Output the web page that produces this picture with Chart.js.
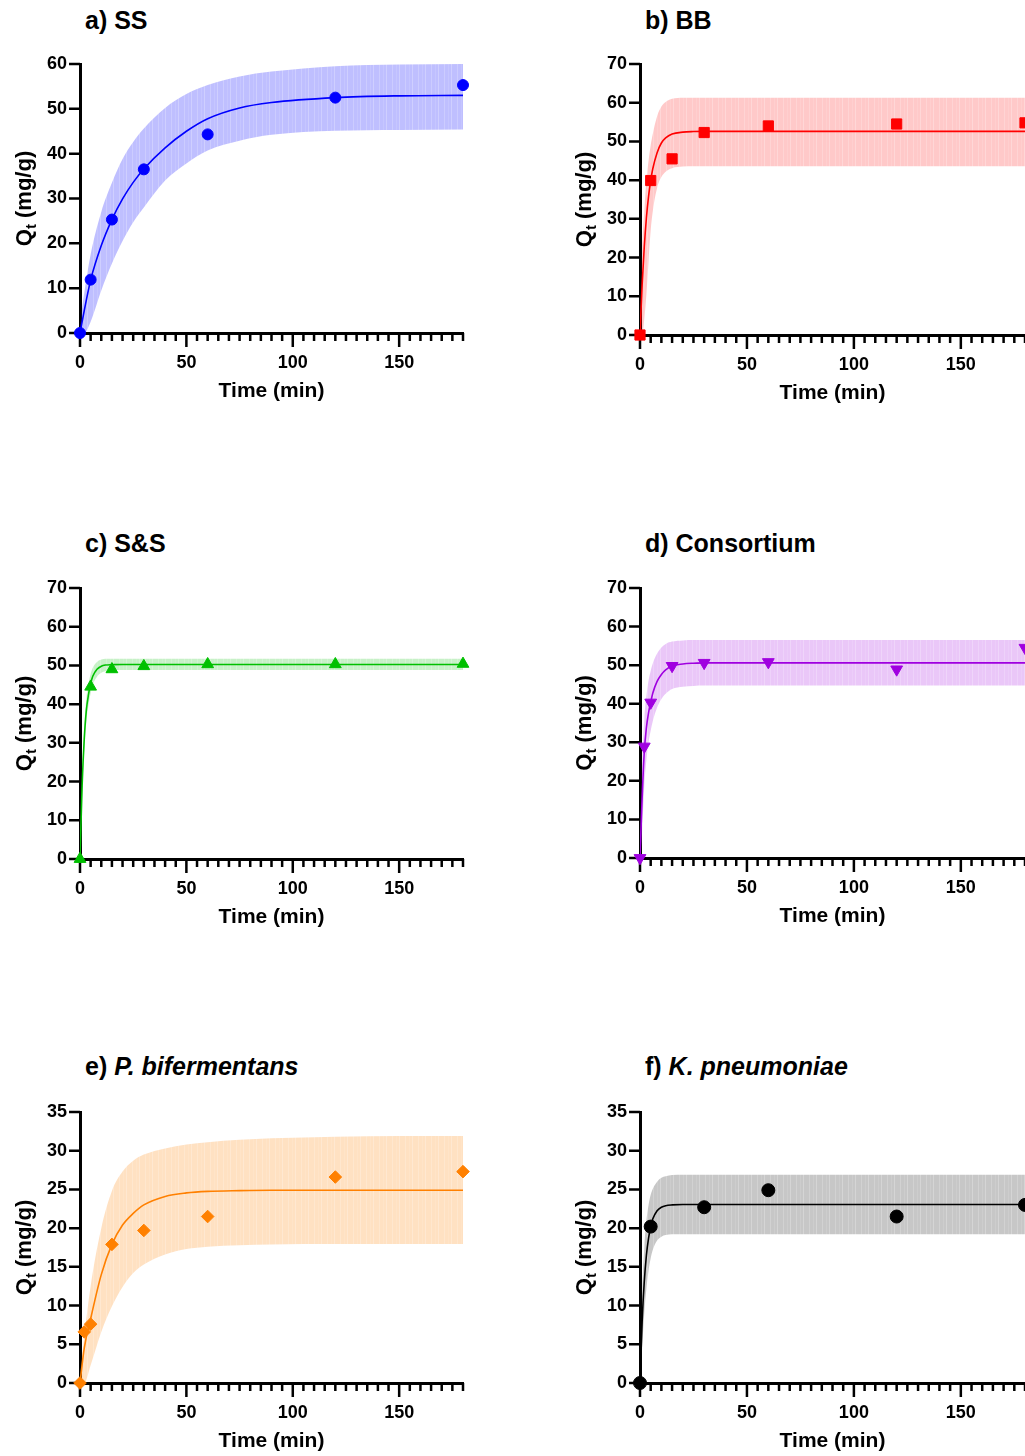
<!DOCTYPE html>
<html>
<head>
<meta charset="utf-8">
<script src="https://cdn.jsdelivr.net/npm/chart.js@4.4.0/dist/chart.umd.min.js"></script>
<style>
  html, body { margin: 0; padding: 0; background: #fff; }
  #page { position: relative; width: 1025px; height: 1456px; overflow: hidden; background: #fff; }
  #page canvas { position: absolute; }
  .ttl { position: absolute; font: bold 25px "Liberation Sans", Arial, sans-serif; line-height: 25px; color: #000; white-space: nowrap; }
</style>
</head>
<body>
<div id="page">
  <div class="ttl" style="left:85px;top:8px">a) SS</div>
  <div class="ttl" style="left:645px;top:8px">b) BB</div>
  <div class="ttl" style="left:85px;top:531px">c) S&amp;S</div>
  <div class="ttl" style="left:645px;top:531px">d) Consortium</div>
  <div class="ttl" style="left:85px;top:1054px">e) <i>P. bifermentans</i></div>
  <div class="ttl" style="left:645px;top:1054px">f) <i>K. pneumoniae</i></div>
  <canvas id="cA"></canvas>
  <canvas id="cB"></canvas>
  <canvas id="cC"></canvas>
  <canvas id="cD"></canvas>
  <canvas id="cE"></canvas>
  <canvas id="cF"></canvas>
</div>
<script>
// time grids used for the fitted curves and their bands (min)
const slowT = [0, 2, 5, 10, 15, 20, 25, 30, 40, 50, 60, 75, 90, 120, 150, 180];
const fastT = [0, 1, 2, 3, 4, 5, 6, 8, 10, 12, 15, 20, 25, 30, 60, 90, 120, 150, 180];

// a) SS
const ssTime = [0, 5, 15, 30, 60, 120, 180];
const ssQt   = [0, 11.9, 25.3, 36.5, 44.3, 52.5, 55.3];
const ssFit  = [0, 5.0, 11.8, 19.5, 25.3, 29.9, 33.6, 36.6, 41.3, 45.0, 47.8, 50.2, 51.4, 52.5, 52.9, 53.0];
const ssHi   = [2.0, 9.0, 17.5, 27.0, 33.5, 38.8, 42.6, 45.6, 50.2, 53.3, 55.3, 57.2, 58.3, 59.5, 59.9, 60.0];
const ssLo   = [0, 0, 2.5, 9.5, 15.5, 20.5, 24.7, 28.0, 34.0, 37.8, 40.7, 42.9, 44.2, 45.1, 45.3, 45.4];

// b) BB
const bbTime = [0, 5, 15, 30, 60, 120, 180];
const bbQt   = [0, 39.9, 45.5, 52.3, 54.0, 54.5, 54.8];
const bbFit  = [0, 13.0, 22.8, 30.3, 35.8, 39.9, 43.0, 47.1, 49.6, 50.9, 51.9, 52.4, 52.55, 52.6, 52.6, 52.6, 52.6, 52.6, 52.6];
const bbHi   = [2, 22, 32, 40, 45, 49, 52, 56.5, 59, 60.2, 61.0, 61.3, 61.3, 61.3, 61.3, 61.3, 61.3, 61.3, 61.3];
const bbLo   = [0, 0, 4, 10.5, 19, 27, 32, 38, 40.8, 42.2, 43.1, 43.5, 43.6, 43.6, 43.6, 43.6, 43.6, 43.6, 43.6];

// c) S&S
const snsTime = [0, 5, 15, 30, 60, 120, 180];
const snsQt   = [0, 44.5, 49.0, 49.8, 50.3, 50.3, 50.4];
const snsFit  = [0, 19.0, 31.0, 38.5, 42.5, 45.3, 47.2, 49.0, 49.8, 50.1, 50.2, 50.25, 50.25, 50.25, 50.25, 50.25, 50.25, 50.25, 50.25];
const snsHi   = [1.0, 21.5, 34.0, 41.5, 45.3, 47.8, 49.4, 50.9, 51.5, 51.7, 51.7, 51.7, 51.7, 51.7, 51.7, 51.7, 51.7, 51.7, 51.7];
const snsLo   = [0, 16.5, 28.0, 35.5, 39.7, 42.8, 45.0, 47.1, 48.1, 48.5, 48.7, 48.8, 48.8, 48.8, 48.8, 48.8, 48.8, 48.8, 48.8];

// d) Consortium
const conTime = [0, 2, 5, 15, 30, 60, 120, 180];
const conQt   = [0, 28.9, 40.3, 49.8, 50.6, 50.8, 48.9, 54.5];
const conFit  = [0, 15.5, 27.5, 33.8, 37.7, 40.4, 42.8, 45.8, 47.6, 48.8, 49.8, 50.3, 50.5, 50.6, 50.6, 50.6, 50.6, 50.6, 50.6];
const conHi   = [3, 24, 36, 42, 46, 48.5, 50.5, 53, 54.6, 55.5, 56.1, 56.4, 56.5, 56.5, 56.5, 56.5, 56.5, 56.5, 56.5];
const conLo   = [0, 7, 18.5, 25.5, 30, 33, 35.5, 39, 41.2, 42.6, 43.8, 44.4, 44.6, 44.7, 44.7, 44.7, 44.7, 44.7, 44.7];

// e) P. bifermentans
const pbTime = [0, 2, 5, 15, 30, 60, 120, 180];
const pbQt   = [0, 6.6, 7.6, 17.9, 19.7, 21.5, 26.6, 27.3];
const pbFit  = [0, 4.5, 8.3, 14.0, 17.9, 20.4, 21.9, 23.0, 24.1, 24.55, 24.75, 24.85, 24.9, 24.9, 24.9, 24.9];
const pbHi   = [1.0, 6.0, 12.5, 20.0, 24.8, 27.3, 28.7, 29.5, 30.3, 30.8, 31.1, 31.4, 31.6, 31.8, 31.9, 31.9];
const pbLo   = [0, 0, 2.3, 6.6, 9.9, 12.4, 14.2, 15.3, 16.6, 17.3, 17.6, 17.8, 17.9, 17.95, 17.95, 17.95];

// f) K. pneumoniae
const kpTime = [0, 5, 30, 60, 120, 180];
const kpQt   = [0, 20.2, 22.7, 24.9, 21.5, 23.0];
const kpFit  = [0, 7.9, 13.1, 16.5, 18.7, 20.2, 21.2, 22.25, 22.7, 22.9, 23.0, 23.05, 23.05, 23.05, 23.05, 23.05, 23.05, 23.05, 23.05];
const kpHi   = [1, 11.5, 17.5, 21, 23, 24.3, 25.1, 26.0, 26.5, 26.7, 26.85, 26.9, 26.9, 26.9, 26.9, 26.9, 26.9, 26.9, 26.9];
const kpLo   = [0, 4.5, 9, 12.2, 14.5, 16.1, 17.2, 18.4, 18.9, 19.1, 19.2, 19.2, 19.2, 19.2, 19.2, 19.2, 19.2, 19.2, 19.2];

const FONT = '"Liberation Sans", Arial, sans-serif';

const pairs = (xs, ys) => xs.map((x, i) => ({ x: x, y: ys[i] }));

// band fill with faint vertical streaks
function streaks(r, g, b, a) {
  const c = document.createElement('canvas');
  c.width = 13; c.height = 4;
  const x = c.getContext('2d');
  const cols = [1, 1, 0.8, 1, 1, 1, 0.9, 1, 1, 0.75, 1, 1, 1];
  cols.forEach((k, i) => {
    x.fillStyle = 'rgba(' + r + ',' + g + ',' + b + ',' + (a * k) + ')';
    x.fillRect(i, 0, 1, 4);
  });
  return x.createPattern(c, 'repeat');
}

// tick marks and axis titles
const axisMarks = {
  id: 'axisMarks',
  beforeDatasetsDraw(chart) {
    const { ctx, chartArea: a, scales: { x, y } } = chart;
    ctx.save();
    ctx.strokeStyle = '#000';
    ctx.lineWidth = 2.5;
    ctx.beginPath();
    x.ticks.forEach(t => {
      const px = x.getPixelForValue(t.value);
      const len = t.value % 50 === 0 ? 14 : 8;
      ctx.moveTo(px, a.bottom);
      ctx.lineTo(px, a.bottom + len);
    });
    y.ticks.forEach(t => {
      const py = y.getPixelForValue(t.value);
      ctx.moveTo(a.left - 11, py);
      ctx.lineTo(a.left, py);
    });
    ctx.stroke();

    ctx.fillStyle = '#000';
    ctx.font = 'bold 21px ' + FONT;
    ctx.textAlign = 'center';
    ctx.textBaseline = 'middle';
    ctx.fillText('Time (min)', (a.left + a.right) / 2, a.bottom + 58);

    // Q with subscript t, rotated
    const big = 'bold 22px ' + FONT, small = 'bold 15px ' + FONT;
    ctx.font = big;
    const wQ = ctx.measureText('Q').width;
    const wR = ctx.measureText(' (mg/g)').width;
    ctx.font = small;
    const wt = ctx.measureText('t').width;
    ctx.translate(a.left - 57, (a.top + a.bottom) / 2);
    ctx.rotate(-Math.PI / 2);
    ctx.textAlign = 'left';
    ctx.textBaseline = 'alphabetic';
    let cx = -(wQ + wt + wR) / 2;
    ctx.font = big; ctx.fillText('Q', cx, 7.5); cx += wQ;
    ctx.font = small; ctx.fillText('t', cx, 12.5); cx += wt;
    ctx.font = big; ctx.fillText(' (mg/g)', cx, 7.5);
    ctx.restore();
  }
};

function panel(id, geo, s) {
  const cv = document.getElementById(id);
  const W = 540;
  const H = geo.bottom - geo.top + 130;
  cv.width = W; cv.height = H;
  cv.style.left = geo.left + 'px';
  cv.style.top = (geo.top - 40) + 'px';
  cv.style.width = W + 'px';
  cv.style.height = H + 'px';

  const tickFont = { family: FONT, size: 18, weight: 'bold' };

  new Chart(cv, {
    type: 'line',
    data: {
      datasets: [
        {
          data: pairs(s.t, s.q),
          showLine: false,
          pointStyle: s.marker,
          pointRadius: s.r,
          pointRotation: s.rot || 0,
          pointBackgroundColor: s.color,
          pointBorderColor: s.color,
          pointBorderWidth: 1,
          clip: false
        },
        {
          data: pairs(s.ft, s.fit),
          borderColor: s.color,
          borderWidth: 1.6,
          pointRadius: 0,
          cubicInterpolationMode: 'monotone',
          fill: false
        },
        {
          data: pairs(s.ft, s.hi),
          borderColor: 'transparent',
          borderWidth: 0,
          pointRadius: 0,
          cubicInterpolationMode: 'monotone',
          fill: '+1',
          backgroundColor: s.band
        },
        {
          data: pairs(s.ft, s.lo),
          borderColor: 'transparent',
          borderWidth: 0,
          pointRadius: 0,
          cubicInterpolationMode: 'monotone',
          fill: false
        }
      ]
    },
    options: {
      responsive: false,
      animation: false,
      events: [],
      layout: { padding: { top: 40, left: 0, bottom: 0, right: geo.left + W - geo.right } },
      plugins: { legend: { display: false }, tooltip: { enabled: false } },
      scales: {
        x: {
          type: 'linear',
          min: 0, max: 180,
          afterFit: sc => { sc.height = 90; },
          grid: { display: false, drawTicks: false },
          border: { display: true, color: '#000', width: 3 },
          ticks: {
            stepSize: 5, autoSkip: false, maxRotation: 0, padding: 19,
            color: '#000', font: tickFont,
            callback: v => (v % 50 === 0 ? String(v) : '')
          }
        },
        y: {
          type: 'linear',
          min: 0, max: s.ymax,
          afterFit: sc => { sc.width = 80; },
          grid: { display: false, drawTicks: false },
          border: { display: true, color: '#000', width: 3 },
          ticks: { stepSize: s.ystep, padding: 13, color: '#000', font: tickFont }
        }
      }
    },
    plugins: [axisMarks]
  });
}

panel('cA', { left: 0, top: 64, bottom: 333, right: 463 }, {
  t: ssTime, q: ssQt, ft: slowT, fit: ssFit, hi: ssHi, lo: ssLo,
  marker: 'circle', r: 5.5, color: '#0000ff', band: streaks(0, 0, 255, 0.25), ymax: 60, ystep: 10
});
panel('cB', { left: 560, top: 64, bottom: 335, right: 1025 }, {
  t: bbTime, q: bbQt, ft: fastT, fit: bbFit, hi: bbHi, lo: bbLo,
  marker: 'rect', r: 7.2, color: '#ff0000', band: streaks(255, 0, 0, 0.21), ymax: 70, ystep: 10
});
panel('cC', { left: 0, top: 588, bottom: 859, right: 463 }, {
  t: snsTime, q: snsQt, ft: fastT, fit: snsFit, hi: snsHi, lo: snsLo,
  marker: 'triangle', r: 6.8, color: '#00c000', band: streaks(0, 190, 0, 0.22), ymax: 70, ystep: 10
});
panel('cD', { left: 560, top: 588, bottom: 858, right: 1025 }, {
  t: conTime, q: conQt, ft: fastT, fit: conFit, hi: conHi, lo: conLo,
  marker: 'triangle', rot: 180, r: 6.8, color: '#a000e0', band: streaks(160, 0, 224, 0.22), ymax: 70, ystep: 10
});
panel('cE', { left: 0, top: 1112, bottom: 1383, right: 463 }, {
  t: pbTime, q: pbQt, ft: slowT, fit: pbFit, hi: pbHi, lo: pbLo,
  marker: 'rectRot', r: 6.3, color: '#ff8000', band: streaks(255, 128, 0, 0.24), ymax: 35, ystep: 5
});
panel('cF', { left: 560, top: 1112, bottom: 1383, right: 1025 }, {
  t: kpTime, q: kpQt, ft: fastT, fit: kpFit, hi: kpHi, lo: kpLo,
  marker: 'circle', r: 6.5, color: '#000000', band: streaks(0, 0, 0, 0.22), ymax: 35, ystep: 5
});
</script>
</body>
</html>
